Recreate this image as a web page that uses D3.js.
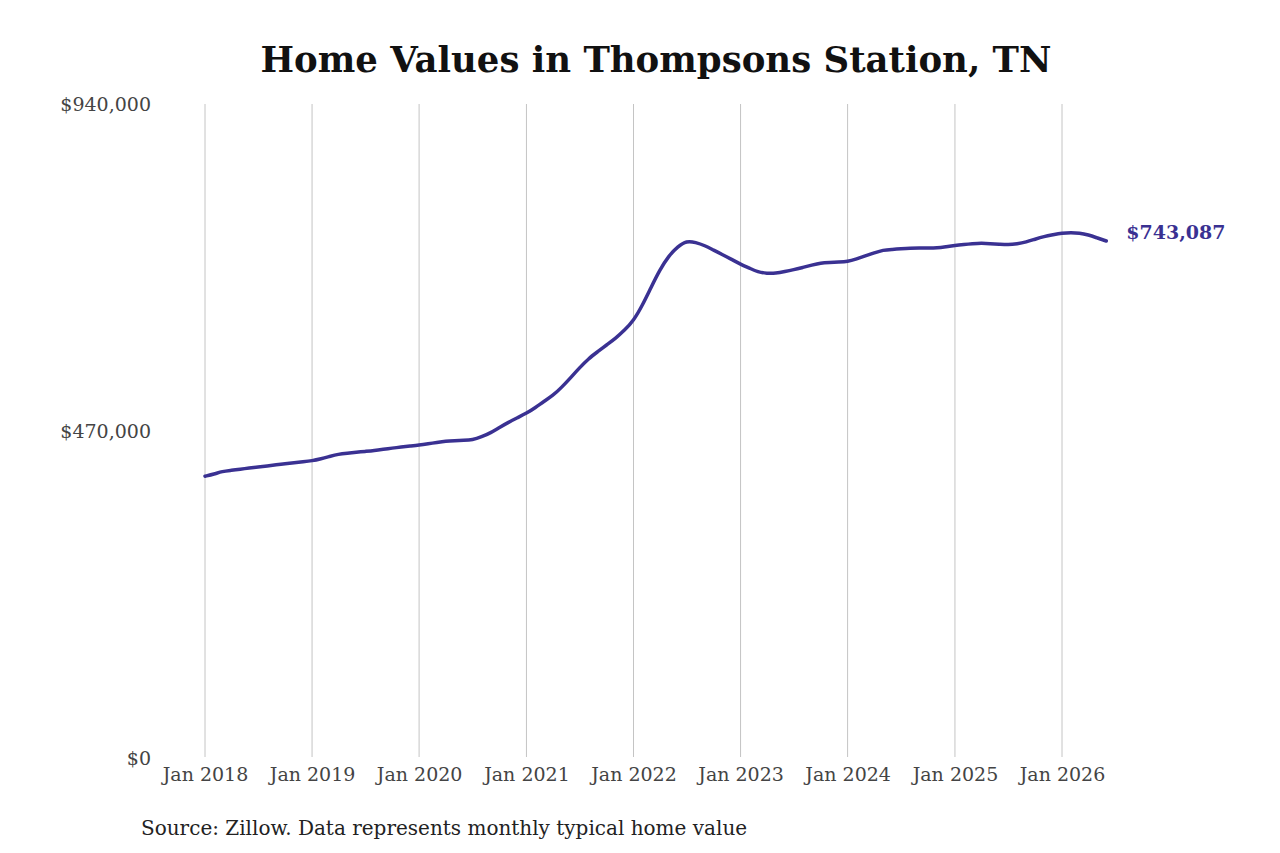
<!DOCTYPE html>
<html><head><meta charset="utf-8">
<script src="https://cdn.jsdelivr.net/npm/d3@7/dist/d3.min.js"></script>
<style>html,body{margin:0;padding:0;background:#fff;}svg{display:block;}</style>
</head><body>
<svg id="chart" width="1280" height="853"></svg>
<script>
const title = "Home Values in Thompsons Station, TN";
const source = "Source: Zillow. Data represents monthly typical home value";
const startMonth = "2018-01";
const yTicks = [0, 470000, 940000];
const xTickYears = [2018, 2019, 2020, 2021, 2022, 2023, 2024, 2025, 2026];
const values = [
  405000, 408000, 412000, 413400, 415100, 416800, 418300, 419800, 421400, 423000, 424300, 425700,
  427200, 430200, 433300, 436700, 438100, 439400, 440700, 442000, 443700, 445400, 446900, 448300,
  449700, 451600, 453500, 455500, 456100, 456500, 457100, 461500, 467400, 475200, 482600, 489000,
  495400, 503800, 512400, 520900, 532700, 546700, 560800, 574100, 584000, 593600, 603200, 614600,
  628400, 651200, 675700, 701800, 721800, 735000, 743500, 741200, 736600, 730000, 723400, 716800,
  709700, 704000, 698500, 696500, 696700, 699100, 701800, 705100, 708400, 711500, 712200, 712800,
  713300, 717500, 721700, 726000, 730200, 731000, 731900, 732700, 733000, 733000, 733000, 734900,
  736900, 738100, 739100, 740100, 739300, 738500, 737500, 738900, 741600, 745700, 749600, 752100,
  754700, 754900, 754700, 751900, 747500, 743087
];

const svg = d3.select("#chart");
const serif = "'DejaVu Serif', serif";
const lineColor = "#3a3192";

const parse = d3.timeParse("%Y-%m");
const t0 = parse(startMonth);
const data = values.map((v, i) => ({ date: d3.timeMonth.offset(t0, i), value: v }));

const x = d3.scaleTime()
  .domain([new Date(2018, 0, 1), new Date(2026, 0, 1)])
  .range([205, 1062]);
const y = d3.scaleLinear().domain([0, 940000]).range([758, 104]);

// title
svg.append("text")
  .attr("x", 656).attr("y", 72)
  .attr("text-anchor", "middle")
  .attr("font-family", serif)
  .attr("font-weight", "bold")
  .attr("font-size", 35.5)
  .attr("fill", "#111")
  .text(title);

// vertical gridlines
const xTickDates = xTickYears.map(yr => new Date(yr, 0, 1));
svg.append("g").selectAll("line")
  .data(xTickDates).join("line")
  .attr("x1", d => x(d)).attr("x2", d => x(d))
  .attr("y1", y(940000)).attr("y2", 757)
  .attr("stroke", "#c4c4c4").attr("stroke-width", 1);

// x axis labels
const xAxis = d3.axisBottom(x).tickValues(xTickDates)
  .tickFormat(d3.timeFormat("Jan %Y")).tickSize(0).tickPadding(0);
const gx = svg.append("g").attr("transform", "translate(0,767)").call(xAxis);
gx.select(".domain").remove();
gx.selectAll("text")
  .attr("font-family", serif).attr("font-size", 19).attr("fill", "#444")
  .attr("dy", "0.75em");

// y axis labels
const yAxis = d3.axisLeft(y).tickValues(yTicks)
  .tickFormat(d => "$" + d3.format(",")(d)).tickSize(0).tickPadding(0);
const gy = svg.append("g").attr("transform", "translate(151,0)").call(yAxis);
gy.select(".domain").remove();
gy.selectAll("text")
  .attr("font-family", serif).attr("font-size", 19).attr("fill", "#444");

// line
const line = d3.line().x(d => x(d.date)).y(d => y(d.value)).curve(d3.curveBasis);
svg.append("path").datum(data)
  .attr("d", line)
  .attr("fill", "none")
  .attr("stroke", lineColor)
  .attr("stroke-width", 3.5)
  .attr("stroke-linejoin", "round").attr("stroke-linecap", "round");

// end label
const last = data[data.length - 1];
svg.append("text")
  .attr("x", x(last.date) + 20).attr("y", y(last.value) - 9)
  .attr("dy", "0.35em")
  .attr("font-family", serif).attr("font-weight", "bold").attr("font-size", 19)
  .attr("fill", lineColor)
  .text("$" + d3.format(",")(last.value));

// source
svg.append("text")
  .attr("x", 141).attr("y", 835)
  .attr("font-family", serif).attr("font-size", 20).attr("fill", "#222")
  .text(source);
</script>
</body></html>
